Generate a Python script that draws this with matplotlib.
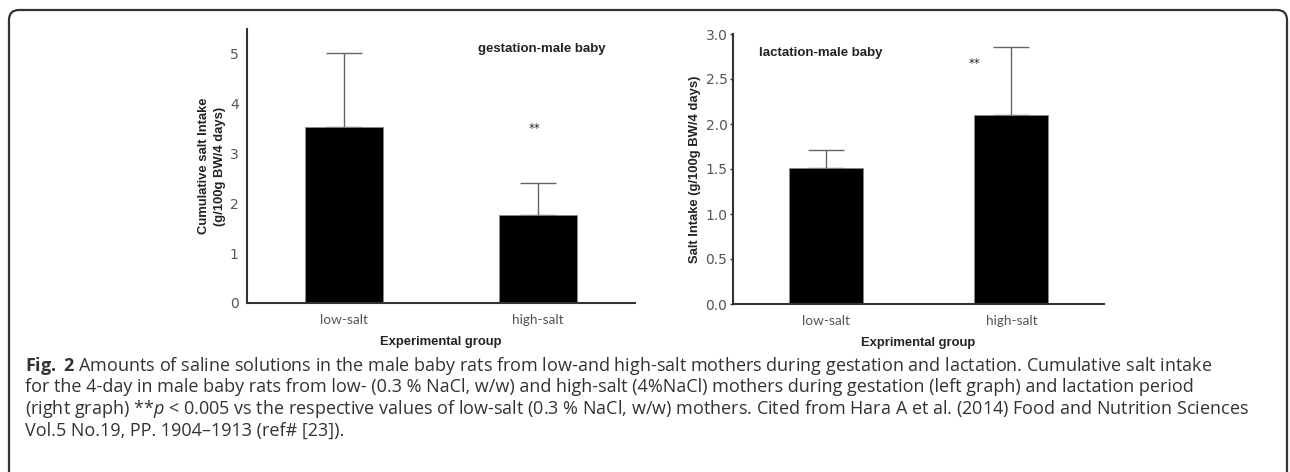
import numpy as np
import matplotlib
matplotlib.use("Agg")
import matplotlib.pyplot as plt
from matplotlib.patches import FancyBboxPatch
from matplotlib.transforms import IdentityTransform

# data
groups = ["low-salt", "high-salt"]
gest_mean = [3.53, 1.77]
gest_err = [1.48, 0.64]
lact_mean = [1.51, 2.10]
lact_err = [0.20, 0.76]

caption = [
    r"$\mathbf{Fig.}$ $\mathbf{2}$ Amounts of saline solutions in the male baby rats from low-and high-salt mothers during gestation and lactation. Cumulative salt intake",
    "for the 4-day in male baby rats from low- (0.3 % NaCl, w/w) and high-salt (4%NaCl) mothers during gestation (left graph) and lactation period",
    r"(right graph) **$p$ < 0.005 vs the respective values of low-salt (0.3 % NaCl, w/w) mothers. Cited from Hara A et al. (2014) Food and Nutrition Sciences",
    "Vol.5 No.19, PP. 1904\u20131913 (ref# [23]).",
]

plt.rcParams['mathtext.fontset'] = 'custom'
plt.rcParams['mathtext.rm'] = 'Open Sans'
plt.rcParams['mathtext.it'] = 'Open Sans:italic'
plt.rcParams['mathtext.bf'] = 'Open Sans:bold'

W, H = 1290, 472
fig = plt.figure(figsize=(W / 100, H / 100), dpi=100)

tick_col = "#555555"
lab_font = dict(family="Liberation Sans", fontweight="bold", fontsize=9.4, color="#222222")


def panel(rect, means, errs, ylim, yticks, fmt, ylabel, xlabel):
    ax = fig.add_axes(rect)
    x = np.arange(len(groups))
    ax.bar(x, means, width=0.4, color="black", edgecolor="#888888", linewidth=0.6, zorder=2)
    ax.errorbar(x, means, yerr=[np.zeros(len(errs)), errs], fmt="none",
                ecolor="#666666", elinewidth=1.0, capsize=13, capthick=1.0, zorder=1)
    ax.set_xlim(-0.5, 1.5)
    ax.set_ylim(*ylim)
    ax.set_yticks(yticks)
    ax.set_yticklabels([fmt.format(v) for v in yticks], fontsize=10, color=tick_col)
    ax.set_xticks(x)
    ax.set_xticklabels(groups, fontsize=9.8, color=tick_col, family="Lato")
    ax.tick_params(axis="x", length=0, pad=8)
    ax.tick_params(axis="y", length=2, width=1, color="#333333", pad=2)
    for s in ["top", "right"]:
        ax.spines[s].set_visible(False)
    for s in ["left", "bottom"]:
        ax.spines[s].set_color("#333333")
        ax.spines[s].set_linewidth(1.5)
    ax.set_ylabel(ylabel, **lab_font)
    ax.set_xlabel(xlabel, labelpad=7, **lab_font)
    return ax


ax1 = panel([247 / W, 1 - 303 / H, (635 - 247) / W, (303 - 29) / H],
            gest_mean, gest_err, (0, 5.5), [0, 1, 2, 3, 4, 5], "{:.0f}",
            "Cumulative salt Intake\n(g/100g BW/4 days)", "Experimental group")
ax1.yaxis.label.set_linespacing(1.45)
ax1.yaxis.labelpad = 3
ax1.tick_params(axis="y", length=0, pad=6)
ax1.text(1.02, 5.1, "gestation-male baby", ha="center", va="center",
         family="Liberation Sans", fontweight="bold", fontsize=9.5, color="#222222")
ax1.text(0.98, 3.5, "**", ha="center", va="center", fontsize=8.5, color="#222222")

ax2 = panel([733 / W, 1 - 304 / H, (1104 - 733) / W, (304 - 34) / H],
            lact_mean, lact_err, (0, 3.0), [0, 0.5, 1.0, 1.5, 2.0, 2.5, 3.0], "{:.1f}",
            "Salt Intake (g/100g BW/4 days)", "Exprimental group")
ax2.yaxis.labelpad = 3
ax2.text(-0.36, 2.79, "lactation-male baby", ha="left", va="center",
         family="Liberation Sans", fontweight="bold", fontsize=9.5, color="#222222")
ax2.text(0.8, 2.67, "**", ha="center", va="center", fontsize=8.5, color="#222222")

# rounded frame around the figure
frame = FancyBboxPatch((9, -30), 1278, 472 - 10 + 30,
                       boxstyle="round,pad=0,rounding_size=10",
                       transform=IdentityTransform(), facecolor="none",
                       edgecolor="#333333", linewidth=1.6)
fig.patches.append(frame)

# caption
for i, line in enumerate(caption):
    fig.text(25 / W, 1 - (366 + 21.5 * i) / H, line, ha="left", va="center",
             family="Open Sans", fontsize=13.0, color="#333333")

fig.savefig("out.png", dpi=100)
